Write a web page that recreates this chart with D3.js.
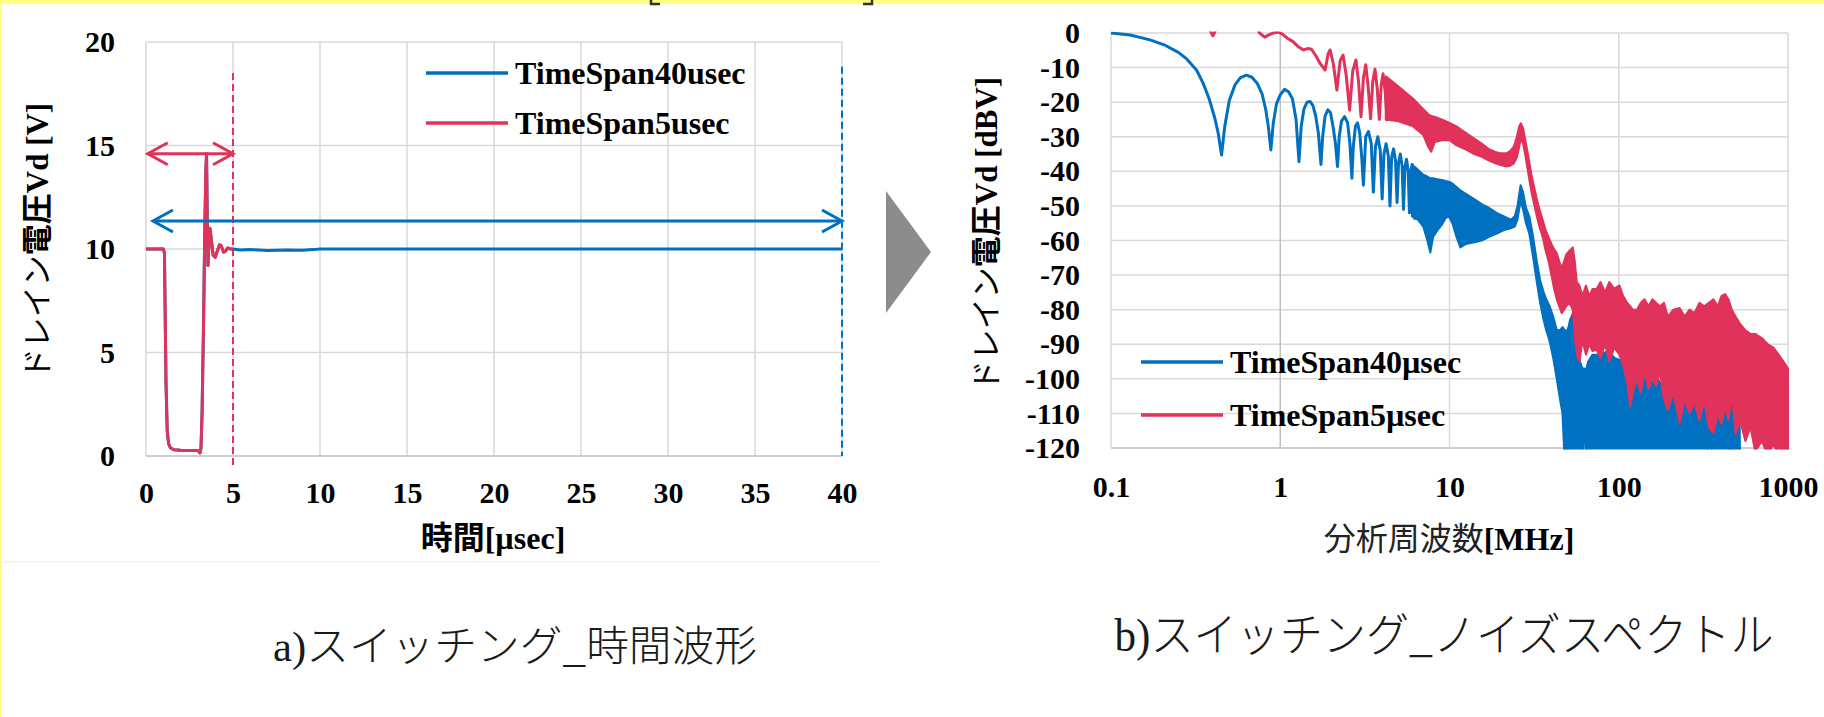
<!DOCTYPE html>
<html>
<head>
<meta charset="utf-8">
<script src="https://cdn.jsdelivr.net/npm/d3@7"></script>
<style>
  html, body { margin: 0; padding: 0; background: #fff; }
  svg { display: block; }
</style>
</head>
<body>
<svg id="fig" width="1824" height="717"></svg>
<script>
// ---------- a) switching waveform in the time domain ----------
const timeTicks = [0, 5, 10, 15, 20, 25, 30, 35, 40];      // µs
const voltTicks = [0, 5, 10, 15, 20];                      // V
const timeSeriesNames = ["TimeSpan40usec", "TimeSpan5usec"];

// TimeSpan5usec record (µs, V)
const timeUs5 = [0, 1.0, 1.06, 1.1, 1.15, 1.22, 1.3, 1.4, 1.6, 2.0, 2.5, 2.9, 3.05, 3.1, 3.16,
  3.22, 3.3, 3.38, 3.44, 3.48, 3.52, 3.56, 3.62, 3.68, 3.76, 3.86, 3.98, 4.1, 4.22, 4.33,
  4.45, 4.57, 4.7, 4.85, 5.0];
const vd5 = [10, 10, 9.8, 7, 3.5, 1.2, 0.6, 0.4, 0.3, 0.28, 0.27, 0.27, 0.22, 0.15, 0.4,
  2, 6, 11, 13.8, 14.6, 11.5, 9.2, 10.3, 11, 10.4, 9.7, 9.6, 9.9, 10.2, 10.15,
  9.85, 9.9, 10.05, 10, 10];

// TimeSpan40usec record (µs, V)
const timeUs40 = [0, 1.0, 1.06, 1.1, 1.15, 1.22, 1.3, 1.4, 1.6, 2.0, 2.5, 2.9, 3.05, 3.1, 3.16,
  3.22, 3.3, 3.38, 3.44, 3.48, 3.52, 3.56, 3.62, 3.68, 3.76, 3.86, 3.98, 4.1, 4.22, 4.33,
  4.45, 4.57, 4.7, 4.85, 5.0, 5.4, 6, 7, 8, 9, 9.6, 10, 40];
const vd40 = [10, 10, 9.8, 7, 3.5, 1.2, 0.6, 0.4, 0.3, 0.28, 0.27, 0.27, 0.22, 0.15, 0.4,
  2, 6, 11, 13.8, 14.6, 11.5, 9.2, 10.3, 11, 10.4, 9.7, 9.6, 9.9, 10.2, 10.15,
  9.85, 9.9, 10.05, 10, 10, 9.95, 9.97, 9.93, 9.95, 9.94, 9.97, 10, 10];

// span annotations: double arrows and dashed end markers
const spanStartUs = [0.1, 0.4];
const spanEndUs = [5, 40];
const spanLevelV = [14.6, 11.35];
const markerUs = [5, 40];
const markerTopV = [18.5, 18.8];
const markerBottomV = [-0.45, 0];

// ---------- b) switching noise spectrum ----------
const freqTicks = [0.1, 1, 10, 100, 1000];                 // MHz
const dbTicks = [-120, -110, -100, -90, -80, -70, -60, -50, -40, -30, -20, -10, 0];
const specSeriesNames = ["TimeSpan40µsec", "TimeSpan5µsec"];

// TimeSpan40µsec: resolved lobes [MHz, dBV]
const lobes40 = [
  [0.1, 0], [0.13, -0.6], [0.17, -2.0], [0.21, -3.6], [0.25, -5.6], [0.28, -7.5], [0.32, -10.7],
  [0.35, -14.5], [0.38, -19], [0.41, -24.5], [0.43, -29], [0.45, -35.3], [0.47, -27], [0.5, -19.5],
  [0.54, -15], [0.58, -13], [0.63, -12.2], [0.68, -12.8], [0.73, -14.5], [0.78, -17.5], [0.82, -22],
  [0.85, -27], [0.88, -33.8], [0.91, -26], [0.95, -20.5], [1.0, -17.9], [1.06, -16.3], [1.12, -17],
  [1.18, -19], [1.24, -25], [1.29, -37.2], [1.33, -27], [1.38, -22], [1.44, -20], [1.5, -19.8],
  [1.56, -21], [1.62, -24], [1.68, -29], [1.74, -38], [1.78, -30], [1.84, -24], [1.91, -22.2],
  [1.98, -23], [2.05, -27], [2.12, -32], [2.18, -38.6], [2.23, -30], [2.3, -25.5], [2.4, -24.2],
  [2.5, -26], [2.58, -32], [2.65, -42], [2.7, -33], [2.78, -27], [2.86, -26], [2.95, -29],
  [3.03, -36], [3.1, -44], [3.2, -30], [3.32, -28.5], [3.45, -32], [3.55, -46], [3.65, -33],
  [3.77, -30], [3.9, -34], [4.0, -48], [4.1, -35], [4.22, -32], [4.35, -35.5], [4.45, -50],
  [4.55, -36], [4.67, -33.5], [4.8, -37], [4.9, -49], [5.0, -37.5], [5.12, -35], [5.25, -38.5],
  [5.35, -51], [5.45, -39], [5.57, -36.5], [5.7, -40], [5.8, -52], [5.9, -40], [6.02, -38],
  [6.15, -41], [6.25, -54]
];
// TimeSpan40µsec: dense band [MHz, upper dBV, lower dBV]
const band40 = [
  [6.0, -38, -53], [6.5, -39.5, -54], [7.0, -41, -56], [7.4, -41.5, -60], [7.7, -42, -63.5],
  [8.0, -42, -59], [8.5, -42.3, -57], [9.0, -42.5, -55.5], [9.5, -42.8, -53.5], [9.9, -43, -53],
  [10.4, -43.5, -55], [11.0, -44.5, -59], [11.6, -45.5, -62], [12.5, -46.5, -61], [14, -48, -60.5],
  [15.5, -49.5, -60], [17, -50.5, -59], [19, -52, -58], [21, -53, -57], [23, -54, -56.5],
  [24.3, -53, -56], [25.2, -50, -54], [26.3, -44, -48.5], [27.2, -46, -51], [28.3, -50.5, -55],
  [29.6, -53, -58], [31, -58, -64], [32.8, -66, -72], [34.3, -71.4, -78], [36, -75, -83],
  [37.3, -77, -86], [39, -79, -89], [41, -82, -94], [43, -85.8, -100], [45, -86, -106],
  [46.5, -85, -110], [48, -86, -125], [49.6, -86, -125], [50.5, -85, -112], [51.5, -83, -125],
  [53.6, -81, -125], [55, -85, -125], [57, -92, -125], [59, -95, -125], [61, -97, -125],
  [62.5, -97, -110], [64, -97.4, -125], [66, -95, -125], [70, -93, -125], [75, -93, -125],
  [80, -92.5, -125], [85, -92.2, -125], [90, -93, -125], [95, -94, -125], [101, -94.5, -125],
  [108, -96, -125], [114, -99, -125], [120, -100, -125], [128, -99, -125], [136, -99, -125],
  [145, -98, -125], [158, -97.4, -125], [170, -100, -125], [185, -103, -125], [197, -103, -125],
  [215, -101, -125], [240, -100, -125], [262, -99, -125], [284, -98.3, -125], [310, -101, -125],
  [330, -104, -125], [338, -103, -125], [345, -104, -108], [352, -103, -125], [375, -102, -125],
  [400, -100, -125], [420, -97, -125], [435, -94.5, -125], [445, -97, -125], [452, -98, -110],
  [460, -100, -125], [475, -100, -125], [490, -102, -125], [505, -103, -125], [515, -104, -125],
  [520, -120, -125]
];

// TimeSpan5µsec: resolved lobes [MHz, dBV]
const lobes5 = [
  [0.1, 3], [0.37, 3], [0.39, 0.2], [0.4, -0.8], [0.41, 0.2], [0.43, 3], [0.73, 3], [0.75, 0.2],
  [0.78, -0.6], [0.81, -1.2], [0.86, -0.5], [0.92, 0.1], [0.98, 0.2], [1.03, -0.3], [1.1, -1.5],
  [1.19, -2.5], [1.28, -4], [1.37, -4.9], [1.45, -4.5], [1.53, -4.7], [1.62, -6.5], [1.72, -8.8],
  [1.84, -10.7], [1.92, -6], [1.97, -4.9], [2.06, -9], [2.16, -16.5], [2.26, -8], [2.35, -6.4],
  [2.45, -12], [2.57, -22.3], [2.68, -11], [2.8, -7.8], [2.9, -14], [3.0, -24.2], [3.1, -13],
  [3.2, -9.2], [3.3, -15], [3.42, -24.8], [3.52, -14], [3.63, -10.5], [3.74, -16], [3.85, -25],
  [3.95, -15], [4.05, -11.8], [4.17, -17], [4.28, -25.5]
];
// TimeSpan5µsec: dense band [MHz, upper dBV, lower dBV]
const band5 = [
  [4.2, -12.5, -25], [5.0, -15.5, -25.5], [6.1, -19, -27], [7.0, -22, -29.5], [7.5, -23.5, -33],
  [7.8, -24, -34.3], [8.2, -24.3, -31.5], [9.0, -25, -31], [10, -26, -31], [11, -27, -32.5],
  [12.6, -29, -33.8], [14, -30.5, -35], [15.5, -32, -35.8], [17, -33.5, -36.8], [18.5, -34.3, -37.6],
  [20, -34.8, -38.2], [21.8, -34.8, -38.6], [23, -34, -38.3], [24, -32.8, -37.7], [25, -30, -36],
  [25.8, -27, -33], [26.4, -26.1, -30.5], [27.2, -27.5, -32], [28.2, -31.5, -36], [29.3, -36, -41],
  [30.5, -41, -46], [31.8, -45, -50], [32.8, -48, -53], [34, -51, -56], [35.5, -54, -59],
  [37, -57, -63], [38.5, -59, -66], [40, -61, -70], [41.5, -62.5, -74], [43, -63.6, -77],
  [44.5, -66, -79], [46, -68, -81], [47.5, -66, -80], [49, -64, -79], [51, -63, -78],
  [53.5, -62, -80], [55, -66, -88], [56.5, -72, -93], [58.6, -73, -95], [61, -76, -89],
  [64, -73, -93], [67, -76, -90], [70, -74, -92], [74, -74, -91.6], [78, -72, -94],
  [83, -75, -90], [88, -72, -95], [94, -74, -91], [101, -73, -93], [106, -76, -96],
  [112, -78, -101], [117, -79, -108], [121, -80, -104], [128, -80, -100], [135, -78, -104],
  [142, -77, -98], [150, -79, -103], [158, -77, -100], [166, -78, -102], [175, -79, -98],
  [185, -78, -106], [195, -82, -109], [210, -80, -104], [229, -79.5, -112.7], [245, -82, -106],
  [262, -80, -110], [280, -81, -107], [300, -78, -112], [320, -79, -106], [340, -78, -114],
  [363, -77, -115.6], [385, -79, -110], [405, -76, -113], [425, -75.5, -108], [445, -77, -112],
  [465, -80, -104], [490, -82, -116], [520, -84, -112], [560, -86, -118], [600, -87, -114],
  [640, -87, -121], [700, -88.2, -118], [760, -90, -122], [820, -91, -119], [880, -93, -122],
  [940, -95, -120], [1000, -97, -122]
];

const captions = ["a)スイッチング_時間波形", "b)スイッチング_ノイズスペクトル"];

// ---------- drawing ----------
const W = 1824, H = 717;
const BLUE = "#0070c0", RED = "#e0325a";
const GRID = "#d9d9d9", AXIS = "#bfbfbf";
const NUM_FONT = "'Liberation Serif','Times New Roman',serif";
const JP_FONT = "'Noto Sans CJK JP','Noto Sans',sans-serif";

const svg = d3.select("#fig");
svg.append("rect").attr("width", W).attr("height", H).attr("fill", "#fff");

// page frame
svg.append("rect").attr("x", 0).attr("y", 0).attr("width", W).attr("height", 4).attr("fill", "#ffff80");
svg.append("rect").attr("x", 0).attr("y", 0).attr("width", 2).attr("height", H).attr("fill", "#ffff80");
svg.append("line").attr("x1", 0).attr("x2", 880).attr("y1", 562).attr("y2", 562)
  .attr("stroke", "#f0f0f0").attr("stroke-width", 1.5);
// ends of the line printed above, trimmed by the page top
svg.append("path").attr("d", "M651,0V4H660M863,4H872V0")
  .attr("fill", "none").attr("stroke", "#333").attr("stroke-width", 2.5);

function styleAxisText(g, size) {
  g.attr("font-family", NUM_FONT).attr("font-size", size).attr("font-weight", "bold");
  g.select(".domain").remove();
  g.selectAll("text").attr("fill", "#000");
}

function chevron(x, y, dir) {
  // dir = -1 points left, +1 points right
  return `M${x - dir * 20},${y - 11}L${x},${y}L${x - dir * 20},${y + 11}`;
}

// ===== chart a =====
const pa = { left: 146, right: 842, top: 42, bottom: 456 };
const xT = d3.scaleLinear().domain([0, 40]).range([pa.left, pa.right]);
const yV = d3.scaleLinear().domain([0, 20]).range([pa.bottom, pa.top]);
const gA = svg.append("g");

gA.append("g").selectAll("line").data(timeTicks).join("line")
  .attr("x1", d => xT(d)).attr("x2", d => xT(d)).attr("y1", pa.top).attr("y2", pa.bottom)
  .attr("stroke", GRID).attr("stroke-width", 1.5);
gA.append("g").selectAll("line").data(voltTicks).join("line")
  .attr("x1", pa.left).attr("x2", pa.right).attr("y1", d => yV(d)).attr("y2", d => yV(d))
  .attr("stroke", d => d === 0 ? AXIS : GRID).attr("stroke-width", 1.5);

gA.append("g").attr("transform", `translate(0,${pa.bottom})`)
  .call(d3.axisBottom(xT).tickValues(timeTicks).tickSize(0).tickPadding(26).tickFormat(d => String(d)))
  .call(g => styleAxisText(g, 30));
gA.append("g").attr("transform", `translate(${pa.left},0)`)
  .call(d3.axisLeft(yV).tickValues(voltTicks).tickSize(0).tickPadding(31).tickFormat(d => String(d)))
  .call(g => styleAxisText(g, 30));

// dashed end markers
const markerColor = [RED, BLUE];
gA.append("g").selectAll("line").data(markerUs).join("line")
  .attr("x1", d => xT(d)).attr("x2", d => xT(d))
  .attr("y1", (d, i) => yV(markerTopV[i])).attr("y2", (d, i) => yV(markerBottomV[i]))
  .attr("stroke", (d, i) => markerColor[i]).attr("stroke-width", 2).attr("stroke-dasharray", "7,4");

// waveforms
const lineT = d3.line().x(d => xT(d[0])).y(d => yV(d[1]));
gA.append("path").datum(timeUs40.map((t, i) => [t, vd40[i]]))
  .attr("d", lineT).attr("fill", "none").attr("stroke", BLUE).attr("stroke-width", 3)
  .attr("stroke-linejoin", "round");
gA.append("path").datum(timeUs5.map((t, i) => [t, vd5[i]]))
  .attr("d", lineT).attr("fill", "none").attr("stroke", RED).attr("stroke-width", 3)
  .attr("stroke-linejoin", "round");

// span arrows
const spanColor = [RED, BLUE];
spanStartUs.forEach((s, i) => {
  const y = yV(spanLevelV[i]), xa = xT(s), xb = xT(spanEndUs[i]);
  gA.append("line").attr("x1", xa).attr("x2", xb).attr("y1", y).attr("y2", y)
    .attr("stroke", spanColor[i]).attr("stroke-width", 3);
  gA.append("path").attr("d", chevron(xa, y, -1) + chevron(xb, y, 1))
    .attr("fill", "none").attr("stroke", spanColor[i]).attr("stroke-width", 3);
});

// legend a
const legA = gA.append("g");
[BLUE, RED].forEach((c, i) => {
  const y = [73, 123][i];
  legA.append("line").attr("x1", 426).attr("x2", 508).attr("y1", y).attr("y2", y)
    .attr("stroke", c).attr("stroke-width", 3.5);
  legA.append("text").attr("x", 515).attr("y", y).attr("dy", "0.33em")
    .attr("font-family", NUM_FONT).attr("font-weight", "bold").attr("font-size", 32)
    .text(timeSeriesNames[i]);
});

// axis titles a
const tA = gA.append("text").attr("x", 493).attr("y", 537).attr("dy", "0.36em")
  .attr("text-anchor", "middle").attr("font-size", 32);
tA.append("tspan").attr("font-family", JP_FONT).attr("font-weight", 700).text("時間");
tA.append("tspan").attr("font-family", NUM_FONT).attr("font-weight", "bold").text("[µsec]");

const yA = gA.append("text").attr("transform", "translate(37,241) rotate(-90)").attr("dy", "0.36em")
  .attr("text-anchor", "middle").attr("font-size", 31);
yA.append("tspan").attr("font-family", JP_FONT).attr("font-weight", 400).text("ドレイン");
yA.append("tspan").attr("font-family", JP_FONT).attr("font-weight", 700).text("電圧");
yA.append("tspan").attr("font-family", NUM_FONT).attr("font-weight", "bold").text("Vd [V]");

// ===== arrow between panels =====
svg.append("path").attr("d", "M886,191L931,252L886,313Z").attr("fill", "#8c8c8c");

// ===== chart b =====
const pb = { left: 1111, right: 1788, top: 33, bottom: 448 };
const xF = d3.scaleLog().domain([0.1, 1000]).range([pb.left, pb.right]);
const yDb = d3.scaleLinear().domain([-120, 0]).range([pb.bottom, pb.top]);
const gB = svg.append("g");

gB.append("g").selectAll("line").data(dbTicks).join("line")
  .attr("x1", pb.left).attr("x2", pb.right).attr("y1", d => yDb(d)).attr("y2", d => yDb(d))
  .attr("stroke", d => d === -120 ? AXIS : GRID).attr("stroke-width", 1.5);
gB.append("g").selectAll("line").data(freqTicks).join("line")
  .attr("x1", d => xF(d)).attr("x2", d => xF(d)).attr("y1", pb.top).attr("y2", pb.bottom)
  .attr("stroke", d => d === 1 ? AXIS : GRID).attr("stroke-width", 1.5);

gB.append("g").attr("transform", `translate(0,${pb.bottom})`)
  .call(d3.axisBottom(xF).tickValues(freqTicks).tickSize(0).tickPadding(28).tickFormat(d => String(d)))
  .call(g => styleAxisText(g, 30));
gB.append("g").attr("transform", `translate(${pb.left},0)`)
  .call(d3.axisLeft(yDb).tickValues(dbTicks).tickSize(0).tickPadding(31).tickFormat(d => String(d)))
  .call(g => styleAxisText(g, 30));

svg.append("clipPath").attr("id", "specClip").append("rect")
  .attr("x", pb.left - 2).attr("y", pb.top - 1.5)
  .attr("width", pb.right - pb.left + 4).attr("height", pb.bottom - pb.top + 3);

const plotB = gB.append("g").attr("clip-path", "url(#specClip)");
const lineF = d3.line().x(d => xF(d[0])).y(d => yDb(d[1]));
const areaF = d3.area().x(d => xF(d[0])).y0(d => yDb(d[2])).y1(d => yDb(d[1]));

function drawSpectrum(lobes, band, color) {
  plotB.append("path").datum(lobes).attr("d", lineF).attr("fill", "none")
    .attr("stroke", color).attr("stroke-width", 3).attr("stroke-linejoin", "round");
  plotB.append("path").datum(band).attr("d", areaF).attr("fill", color)
    .attr("stroke", color).attr("stroke-width", 2).attr("stroke-linejoin", "round");
}
drawSpectrum(lobes40, band40, BLUE);
drawSpectrum(lobes5, band5, RED);

// legend b
const legB = gB.append("g");
[BLUE, RED].forEach((c, i) => {
  const y = [362, 415][i];
  legB.append("line").attr("x1", 1141).attr("x2", 1223).attr("y1", y).attr("y2", y)
    .attr("stroke", c).attr("stroke-width", 3.5);
  legB.append("text").attr("x", 1230).attr("y", y).attr("dy", "0.33em")
    .attr("font-family", NUM_FONT).attr("font-weight", "bold").attr("font-size", 32)
    .text(specSeriesNames[i]);
});

// axis titles b
const tB = gB.append("text").attr("x", 1449).attr("y", 538).attr("dy", "0.36em")
  .attr("text-anchor", "middle").attr("font-size", 32);
tB.append("tspan").attr("font-family", JP_FONT).attr("font-weight", 400).attr("fill", "#222").text("分析周波数");
tB.append("tspan").attr("font-family", NUM_FONT).attr("font-weight", "bold").text("[MHz]");

const yB = gB.append("text").attr("transform", "translate(986,234) rotate(-90)").attr("dy", "0.36em")
  .attr("text-anchor", "middle").attr("font-size", 31);
yB.append("tspan").attr("font-family", JP_FONT).attr("font-weight", 400).text("ドレイン");
yB.append("tspan").attr("font-family", JP_FONT).attr("font-weight", 700).text("電圧");
yB.append("tspan").attr("font-family", NUM_FONT).attr("font-weight", "bold").text("Vd [dBV]");

// ===== captions =====
const capX = [515, 1444], capY = [645, 634], capW = [484, 659], capSize = [42, 46];
captions.forEach((c, i) => {
  const t = svg.append("text").attr("x", capX[i]).attr("y", capY[i]).attr("dy", "0.38em")
    .attr("text-anchor", "middle").attr("font-size", capSize[i]).attr("fill", "#1a1a1a")
    .attr("textLength", capW[i]).attr("lengthAdjust", "spacingAndGlyphs");
  t.append("tspan").attr("font-family", NUM_FONT).text(c.slice(0, 2));
  t.append("tspan").attr("font-family", JP_FONT).attr("font-weight", 300).text(c.slice(2));
});
</script>
</body>
</html>
